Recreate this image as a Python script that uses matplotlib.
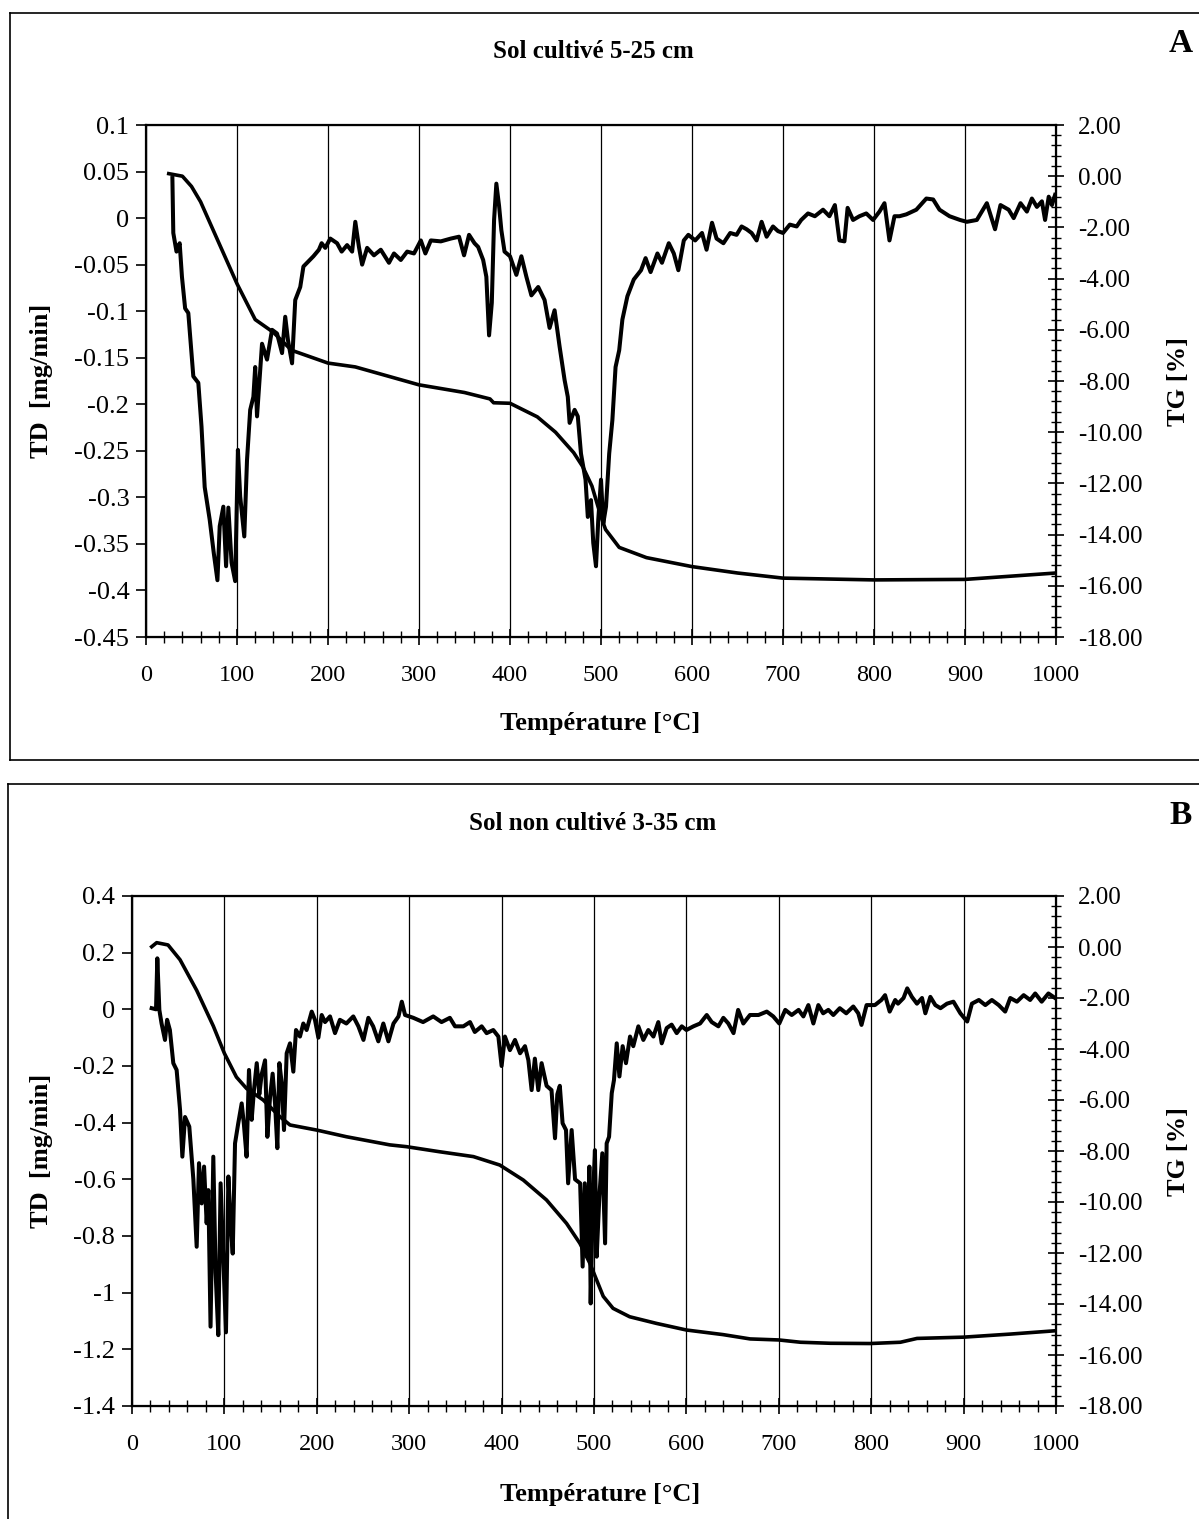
import numpy as np
import matplotlib
matplotlib.use("Agg")
import matplotlib.pyplot as plt
from matplotlib.ticker import MultipleLocator, FixedLocator, FuncFormatter
from matplotlib.lines import Line2D

plt.rcParams['font.family'] = ['Liberation Serif', 'DejaVu Serif']

# ---- Panel A : Sol cultive 5-25 cm ----
a_dtg_t = [29, 30, 33.5, 37, 39.5, 43, 46.5, 52, 57.5, 61, 64.5, 70, 74.5, 78.5, 81, 85, 88, 90.5, 94, 98,
           101, 103.5, 108, 111, 114.5, 118, 120, 122, 127.5, 133, 138.5, 144, 149.5, 153, 156, 160.5, 164,
           169.5, 173, 177, 184, 190, 193, 197, 202.5, 210, 215, 221, 226.5, 230, 234, 237.5, 243, 250.5,
           258, 267, 272.5, 280, 287, 294.5, 302, 307, 313, 324, 335, 344, 349.5, 355, 361, 365, 370.5,
           374, 377, 380, 382.5, 385, 388, 390.5, 394, 400, 407, 412.5, 418, 423.5, 431, 438, 443.5, 449,
           454.5, 460, 463.5, 465.5, 471, 474.5, 478, 483, 485.5, 489, 491.5, 494.5, 497, 500, 502.5,
           505.5, 509, 512.5, 516, 520, 523.5, 529, 536, 544, 549, 554.5, 562, 567, 574.5, 580, 585, 591,
           596, 603.5, 611, 616, 622, 627, 634.5, 642, 649, 654.5, 660, 665.5, 671, 676.5, 682, 689,
           694.5, 700, 707.5, 715, 720, 727.5, 735, 744, 751, 757, 762, 767.5, 771, 777, 784, 791.5, 799,
           806, 811.5, 817, 822.5, 828, 835.5, 846.5, 857.5, 865, 872, 883, 894.5, 902, 913, 924, 933,
           939, 948, 953.5, 961, 968, 973.5, 979, 984.5, 988, 992, 995.5, 999]
a_dtg = [0.043, -0.016, -0.036, -0.027, -0.063, -0.097, -0.102, -0.17, -0.177, -0.224, -0.289, -0.324,
         -0.36, -0.389, -0.331, -0.31, -0.374, -0.311, -0.37, -0.39, -0.249, -0.299, -0.342, -0.26,
         -0.206, -0.192, -0.16, -0.213, -0.135, -0.152, -0.12, -0.124, -0.145, -0.106, -0.131, -0.156,
         -0.088, -0.074, -0.052, -0.048, -0.041, -0.034, -0.027, -0.032, -0.022, -0.027, -0.036, -0.029,
         -0.036, -0.004, -0.031, -0.05, -0.032, -0.04, -0.034, -0.048, -0.038, -0.045, -0.036, -0.038,
         -0.024, -0.038, -0.024, -0.025, -0.022, -0.02, -0.04, -0.018, -0.027, -0.031, -0.045, -0.063,
         -0.126, -0.091, -0.002, 0.037, 0.013, -0.013, -0.036, -0.041, -0.061, -0.041, -0.063, -0.083,
         -0.074, -0.088, -0.118, -0.099, -0.138, -0.174, -0.192, -0.22, -0.206, -0.213, -0.253, -0.281,
         -0.321, -0.303, -0.349, -0.374, -0.324, -0.281, -0.328, -0.31, -0.253, -0.217, -0.16, -0.142,
         -0.109, -0.084, -0.066, -0.056, -0.043, -0.058, -0.038, -0.048, -0.027, -0.038, -0.056, -0.024,
         -0.018, -0.024, -0.016, -0.034, -0.005, -0.022, -0.027, -0.016, -0.018, -0.009, -0.012, -0.016,
         -0.024, -0.004, -0.02, -0.009, -0.014, -0.016, -0.007, -0.009, -0.002, 0.005, 0.002, 0.009,
         0.002, 0.014, -0.024, -0.025, 0.011, -0.002, 0.002, 0.005, -0.002, 0.007, 0.016, -0.024, 0.002,
         0.002, 0.004, 0.009, 0.021, 0.02, 0.009, 0.002, -0.002, -0.004, -0.002, 0.016, -0.012, 0.014,
         0.009, 0.0, 0.016, 0.007, 0.021, 0.012, 0.018, -0.002, 0.023, 0.014, 0.025]
a_tg_t = [25, 40, 50, 60, 70, 80, 90, 100, 120, 140, 160, 200, 230, 300, 350, 378, 382, 400, 430, 450,
          470, 480, 490, 500, 505, 520, 550, 600, 650, 700, 800, 900, 1000]
a_tg = [0.1, 0.0, -0.4, -1.0, -1.8, -2.6, -3.4, -4.2, -5.6, -6.1, -6.8, -7.3, -7.45, -8.15, -8.45, -8.7,
        -8.85, -8.87, -9.4, -10.0, -10.8, -11.35, -12.1, -13.3, -13.8, -14.5, -14.9, -15.25, -15.5, -15.7,
        -15.77, -15.75, -15.5]

# ---- Panel B : Sol non cultive 3-35 cm ----
b_dtg_t = [21.3, 26, 27.4, 29.6, 32, 35.7, 38, 41, 44.7, 48.3, 52, 54.5, 57.4, 62, 66.4, 70, 72.5, 75.4,
           78, 80.8, 82.6, 85, 88, 90.5, 93.4, 95.9, 98.8, 101.7, 104.3, 106.8, 109, 111.5, 115, 118.7,
           121, 124, 126.6, 129.5, 132, 135, 137.8, 140.3, 144, 146.5, 149.4, 152.2, 154.8, 157.3, 159.5,
           162, 164.5, 167.4, 171, 174.6, 177.5, 181.8, 185.4, 189, 194.5, 198, 201.7, 205.3, 208.9,
           214.3, 219.7, 225, 232, 239.5, 245, 250.5, 255.8, 261, 266.6, 272, 277.5, 283, 288.4, 292,
           295.5, 304.5, 315, 326, 335, 344, 349.6, 358.6, 365.8, 371, 378.4, 383.8, 391, 396.5, 400,
           403.6, 409, 414.5, 420, 425.3, 429, 432.5, 436, 439.7, 443.3, 448.7, 454, 457.8, 460.3, 463,
           466, 469.7, 472, 475.8, 479.5, 485, 487.7, 490, 492.6, 495, 496.4, 498.6, 501, 502.9, 505.8,
           509, 512, 513.7, 516.3, 519.2, 521.6, 524.6, 527.5, 531, 534.6, 539, 542.5, 548, 553.4, 558.8,
           564.3, 569.6, 573.3, 578.7, 584, 589.5, 595, 600, 607.6, 614.8, 622, 627.4, 634.6, 640, 645.4,
           651, 656, 661.6, 668.8, 678, 687, 694, 700.5, 707, 714, 721.4, 726.6, 732, 737.4, 742.8, 748,
           753.6, 759, 766, 773, 780.6, 786, 789.5, 795, 804, 811, 815, 820, 826, 829, 835, 839, 844,
           849.5, 855, 858.6, 864, 869.4, 875, 882, 889, 896.5, 903.9, 909, 916.5, 923.5, 930.6, 938, 945,
           950.5, 957.7, 965, 972, 977.5, 984.5, 991.8, 999]
b_dtg = [0.004, 0.0, 0.18, -0.002, -0.05, -0.108, -0.037, -0.073, -0.19, -0.214, -0.355, -0.52, -0.38,
         -0.414, -0.6, -0.838, -0.543, -0.685, -0.555, -0.755, -0.638, -1.12, -0.52, -0.93, -1.15,
         -0.614, -0.873, -1.14, -0.59, -0.755, -0.862, -0.473, -0.402, -0.332, -0.402, -0.52, -0.214,
         -0.39, -0.285, -0.19, -0.3, -0.23, -0.18, -0.45, -0.31, -0.227, -0.332, -0.49, -0.19, -0.26,
         -0.426, -0.155, -0.12, -0.22, -0.073, -0.096, -0.05, -0.073, -0.008, -0.037, -0.1, -0.02,
         -0.045, -0.025, -0.084, -0.037, -0.05, -0.025, -0.06, -0.108, -0.03, -0.06, -0.113, -0.05,
         -0.113, -0.05, -0.025, 0.027, -0.02, -0.03, -0.045, -0.025, -0.045, -0.03, -0.06, -0.06, -0.045,
         -0.08, -0.06, -0.084, -0.073, -0.096, -0.2, -0.096, -0.144, -0.108, -0.155, -0.13, -0.18,
         -0.285, -0.174, -0.285, -0.19, -0.27, -0.285, -0.455, -0.3, -0.27, -0.402, -0.426, -0.614,
         -0.426, -0.6, -0.614, -0.908, -0.614, -0.873, -0.555, -1.038, -0.69, -0.497, -0.873, -0.66,
         -0.508, -0.826, -0.473, -0.45, -0.296, -0.25, -0.12, -0.237, -0.13, -0.19, -0.096, -0.13, -0.06,
         -0.108, -0.073, -0.096, -0.045, -0.12, -0.066, -0.054, -0.084, -0.06, -0.073, -0.06, -0.05,
         -0.02, -0.045, -0.06, -0.03, -0.05, -0.084, -0.002, -0.05, -0.02, -0.02, -0.008, -0.025, -0.05,
         -0.002, -0.02, -0.002, -0.025, 0.015, -0.05, 0.015, -0.014, -0.002, -0.02, 0.004, -0.014, 0.01,
         -0.014, -0.055, 0.015, 0.015, 0.033, 0.05, -0.008, 0.033, 0.02, 0.04, 0.074, 0.044, 0.02, 0.04,
         -0.014, 0.044, 0.015, 0.004, 0.02, 0.027, -0.014, -0.043, 0.02, 0.033, 0.015, 0.033, 0.015,
         -0.008, 0.04, 0.027, 0.05, 0.033, 0.056, 0.027, 0.056, 0.04]
b_tg_t = [21.3, 26.7, 39, 52, 70, 88, 100, 113, 124, 142, 160, 171, 200, 232, 279, 297, 333, 369.5, 398,
          423.5, 448.6, 470.3, 484.7, 495.5, 510, 520.6, 538.6, 567.5, 600, 639.6, 669, 700, 723.5, 755.8,
          799, 831.6, 849.6, 900, 950.5, 999]
b_tg = [0.01, 0.17, 0.08, -0.5, -1.7, -3.1, -4.17, -5.1, -5.55, -6.0, -6.65, -6.98, -7.18, -7.44, -7.76,
        -7.83, -8.03, -8.22, -8.55, -9.14, -9.92, -10.84, -11.62, -12.4, -13.7, -14.17, -14.5, -14.76,
        -15.02, -15.2, -15.37, -15.41, -15.5, -15.54, -15.55, -15.5, -15.35, -15.3, -15.18, -15.05]

fig = plt.figure(figsize=(11.99, 15.19), dpi=100)
W, H = 1199.0, 1519.0


def fx(px):
    return px / W


def fy(py):
    return 1 - py / H


def left_fmt(v, p):
    v = round(v, 3) + 0.0
    return '%g' % v


def panel(rect, t1, d1, t2, d2, ylim, ystep, title, letter, title_y, letter_y, xlab_y, ylab_x, yr_x):
    ax = fig.add_axes(rect)
    ax.plot(t1, d1, color='k', lw=2.9, solid_joinstyle='round')
    ax.set_xlim(0, 1000)
    ax.set_ylim(*ylim)
    ax.xaxis.set_major_locator(MultipleLocator(100))
    ax.xaxis.set_minor_locator(MultipleLocator(20))
    yt = np.round(np.arange(ylim[0], ylim[1] + ystep / 2, ystep), 3)
    ax.yaxis.set_major_locator(FixedLocator(yt))
    ax.yaxis.set_major_formatter(FuncFormatter(left_fmt))
    ax.grid(axis='x', which='major', color='k', lw=0.9)
    ax.tick_params(axis='x', which='major', direction='inout', length=12, width=1.2, labelsize=17.5, pad=14)
    ax.tick_params(axis='x', which='minor', direction='inout', length=8, width=1.0)
    ax.tick_params(axis='y', which='major', direction='out', length=7, width=1.2, labelsize=19, pad=5)
    for s in ax.spines.values():
        s.set_linewidth(1.6)

    ax2 = ax.twinx()
    ax2.plot(t2, d2, color='k', lw=2.6)
    ax2.set_ylim(-18, 2)
    ax2.yaxis.set_major_locator(MultipleLocator(2))
    ax2.yaxis.set_minor_locator(MultipleLocator(0.4))
    ax2.yaxis.set_major_formatter(FuncFormatter(lambda v, p: '%.2f' % (v + 0.0)))
    ax2.tick_params(axis='y', which='major', direction='inout', length=12, width=1.2, labelsize=18, pad=10)
    ax2.tick_params(axis='y', which='minor', direction='inout', length=7, width=1.0)

    fig.text(fx(593), fy(title_y), title, ha='center', va='center', fontsize=18, fontweight='bold')
    fig.text(fx(1181), fy(letter_y), letter, ha='center', va='center', fontsize=24, fontweight='bold')
    fig.text(fx(600), fy(xlab_y), 'Température [°C]', ha='center', va='center', fontsize=19,
             fontweight='bold')
    mid = rect[1] + rect[3] / 2
    fig.text(fx(ylab_x), mid, 'TD  [mg/min]', ha='center', va='center', rotation=90, fontsize=19,
             fontweight='bold')
    fig.text(fx(yr_x), mid, 'TG [%]', ha='center', va='center', rotation=90, fontsize=19,
             fontweight='bold')
    return ax


panel([fx(146), fy(637), fx(1056) - fx(146), fy(125) - fy(637)], a_dtg_t, a_dtg, a_tg_t, a_tg,
      (-0.45, 0.1), 0.05, 'Sol cultivé 5-25 cm', 'A', 52, 43, 724, 42, 1178)
panel([fx(132), fy(1406), fx(1056) - fx(132), fy(896) - fy(1406)], b_dtg_t, b_dtg, b_tg_t, b_tg,
      (-1.4, 0.4), 0.2, 'Sol non cultivé 3-35 cm', 'B', 823, 815, 1494, 42, 1178)

# frames around the two panels
frames = [((10, 1205), (13, 13)), ((10, 10), (13, 760)), ((10, 1205), (760, 760)),
          ((8, 1205), (784, 784)), ((8, 8), (784, 1530))]
for xs, ys in frames:
    fig.add_artist(Line2D([fx(xs[0]), fx(xs[1])], [fy(ys[0]), fy(ys[1])], color='k', lw=1.2,
                          transform=fig.transFigure))

fig.savefig('out.png', dpi=100)
